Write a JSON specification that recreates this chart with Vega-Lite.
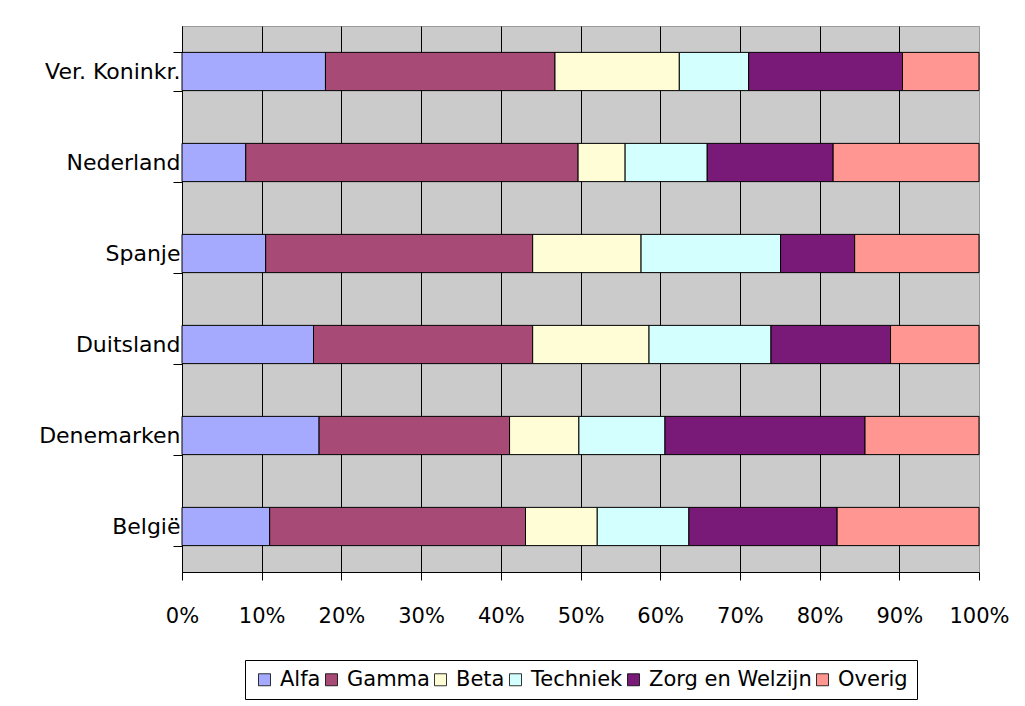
{
  "$schema": "https://vega.github.io/schema/vega-lite/v6.json",
  "width": 797,
  "height": 546,
  "autosize": {"type": "none"},
  "padding": {"left": 182, "top": 26, "right": 46, "bottom": 134},
  "background": "white",
  "config": {
    "font": "DejaVu Sans",
    "view": {"fill": "#CBCBCB", "stroke": "#999999", "strokeWidth": 1}
  },
  "data": {
    "values": [
      {"land": "Ver. Koninkr.", "vak": "Alfa", "pct": 18.0},
      {"land": "Ver. Koninkr.", "vak": "Gamma", "pct": 28.8},
      {"land": "Ver. Koninkr.", "vak": "Beta", "pct": 15.6},
      {"land": "Ver. Koninkr.", "vak": "Techniek", "pct": 8.7},
      {"land": "Ver. Koninkr.", "vak": "Zorg en Welzijn", "pct": 19.3},
      {"land": "Ver. Koninkr.", "vak": "Overig", "pct": 9.6},
      {"land": "Nederland", "vak": "Alfa", "pct": 8.0},
      {"land": "Nederland", "vak": "Gamma", "pct": 41.7},
      {"land": "Nederland", "vak": "Beta", "pct": 5.9},
      {"land": "Nederland", "vak": "Techniek", "pct": 10.3},
      {"land": "Nederland", "vak": "Zorg en Welzijn", "pct": 15.8},
      {"land": "Nederland", "vak": "Overig", "pct": 18.3},
      {"land": "Spanje", "vak": "Alfa", "pct": 10.5},
      {"land": "Spanje", "vak": "Gamma", "pct": 33.5},
      {"land": "Spanje", "vak": "Beta", "pct": 13.6},
      {"land": "Spanje", "vak": "Techniek", "pct": 17.5},
      {"land": "Spanje", "vak": "Zorg en Welzijn", "pct": 9.3},
      {"land": "Spanje", "vak": "Overig", "pct": 15.6},
      {"land": "Duitsland", "vak": "Alfa", "pct": 16.5},
      {"land": "Duitsland", "vak": "Gamma", "pct": 27.5},
      {"land": "Duitsland", "vak": "Beta", "pct": 14.6},
      {"land": "Duitsland", "vak": "Techniek", "pct": 15.3},
      {"land": "Duitsland", "vak": "Zorg en Welzijn", "pct": 15.0},
      {"land": "Duitsland", "vak": "Overig", "pct": 11.1},
      {"land": "Denemarken", "vak": "Alfa", "pct": 17.2},
      {"land": "Denemarken", "vak": "Gamma", "pct": 23.9},
      {"land": "Denemarken", "vak": "Beta", "pct": 8.7},
      {"land": "Denemarken", "vak": "Techniek", "pct": 10.8},
      {"land": "Denemarken", "vak": "Zorg en Welzijn", "pct": 25.1},
      {"land": "Denemarken", "vak": "Overig", "pct": 14.3},
      {"land": "België", "vak": "Alfa", "pct": 11.0},
      {"land": "België", "vak": "Gamma", "pct": 32.1},
      {"land": "België", "vak": "Beta", "pct": 9.0},
      {"land": "België", "vak": "Techniek", "pct": 11.5},
      {"land": "België", "vak": "Zorg en Welzijn", "pct": 18.6},
      {"land": "België", "vak": "Overig", "pct": 17.8}
    ]
  },
  "transform": [
    {"calculate": "indexof(['Alfa', 'Gamma', 'Beta', 'Techniek', 'Zorg en Welzijn', 'Overig'], datum.vak)", "as": "volgorde"}
  ],
  "mark": {"type": "bar", "stroke": "#000000", "strokeWidth": 1},
  "encoding": {
    "y": {
      "field": "land",
      "type": "nominal",
      "sort": ["Ver. Koninkr.", "Nederland", "Spanje", "Duitsland", "Denemarken", "België"],
      "scale": {"paddingInner": 0.58, "paddingOuter": 0.29},
      "axis": {
        "title": null,
        "tickBand": "extent",
        "tickSize": 9,
        "labelPadding": -7,
        "labelFontSize": 22,
        "labelColor": "#000000",
        "labelLimit": 300,
        "domainColor": "#000000",
        "tickColor": "#000000",
        "grid": false
      }
    },
    "x": {
      "field": "pct",
      "type": "quantitative",
      "stack": "normalize",
      "scale": {"domain": [0, 1]},
      "axis": {
        "title": null,
        "format": ".0%",
        "values": [0, 0.1, 0.2, 0.3, 0.4, 0.5, 0.6, 0.7, 0.8, 0.9, 1],
        "grid": true,
        "gridColor": {"condition": {"test": "datum.value >= 1", "value": "#999999"}, "value": "#000000"},
        "gridWidth": 1,
        "gridOpacity": 1,
        "tickSize": 8,
        "labelPadding": 25,
        "labelFontSize": 21,
        "labelColor": "#000000",
        "labelFlush": false,
        "domainColor": "#000000",
        "tickColor": "#000000"
      }
    },
    "order": {"field": "volgorde", "type": "quantitative", "sort": "ascending"},
    "color": {
      "field": "vak",
      "type": "nominal",
      "sort": ["Alfa", "Gamma", "Beta", "Techniek", "Zorg en Welzijn", "Overig"],
      "scale": {
        "domain": ["Alfa", "Gamma", "Beta", "Techniek", "Zorg en Welzijn", "Overig"],
        "range": ["#A6AAFF", "#A84A76", "#FFFDD6", "#D3FFFF", "#7A1A78", "#FF9691"]
      },
      "legend": {
        "title": null,
        "orient": "none",
        "direction": "horizontal",
        "legendX": 63,
        "legendY": 634,
        "padding": 9,
        "strokeColor": "#000000",
        "fillColor": "#FFFFFF",
        "symbolType": "square",
        "symbolSize": 144,
        "symbolStrokeColor": "#000000",
        "symbolStrokeWidth": 0.8,
        "symbolOpacity": 1,
        "labelFontSize": 21,
        "labelColor": "#000000",
        "labelOffset": 5,
        "labelLimit": 400,
        "columnPadding": -9
      }
    }
  }
}
